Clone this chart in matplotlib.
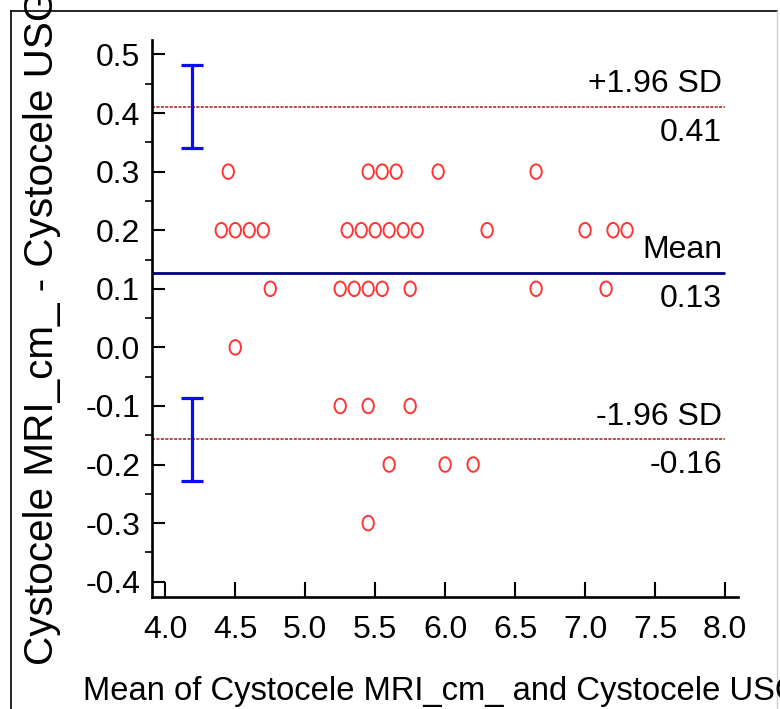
import matplotlib
matplotlib.use("Agg")
import matplotlib.pyplot as plt
from matplotlib.path import Path
from matplotlib.markers import MarkerStyle
from matplotlib.lines import Line2D
import numpy as np

# ---- data ----
mean_vals = [4.45, 5.45, 5.55, 5.65, 5.95, 6.65,
             4.4, 4.5, 4.6, 4.7, 5.3, 5.4, 5.5, 5.6, 5.7, 5.8, 6.3, 7.0, 7.2, 7.3,
             4.75, 5.25, 5.35, 5.45, 5.55, 5.75, 6.65, 7.15,
             4.5,
             5.25, 5.45, 5.75,
             5.6, 6.0, 6.2,
             5.45]
diff_vals = [0.3] * 6 + [0.2] * 14 + [0.1] * 8 + [0.0] + [-0.1] * 3 + [-0.2] * 3 + [-0.3]

bias = 0.127
upper_loa = 0.411
lower_loa = -0.157
loa_ci_half = 0.071
ci_x = 4.19

line_labels_above = ["+1.96 SD", "Mean", "-1.96 SD"]
line_labels_below = ["0.41", "0.13", "-0.16"]

xticks = [4.0, 4.5, 5.0, 5.5, 6.0, 6.5, 7.0, 7.5, 8.0]
yticks = [-0.4, -0.3, -0.2, -0.1, 0.0, 0.1, 0.2, 0.3, 0.4, 0.5]

xlabel = "Mean of Cystocele MRI_cm_ and Cystocele USG"
ylabel = "Cystocele MRI_cm_ - Cystocele USG"

plt.rcParams['font.family'] = ['Liberation Sans', 'DejaVu Sans']

W, H = 780, 709
fig = plt.figure(figsize=(W / 100, H / 100), dpi=100)
ax = fig.add_axes([152.3 / W, 1 - 596.7 / H, (738 - 152.3) / W, (596.7 - 40) / H])

ax.set_xlim(3.907, 8.093)
ax.set_ylim(-0.4256, 0.5247)

# reference lines
x_end = 8.0
ax.plot([3.907, x_end], [bias, bias], color='#000080', lw=2.0, solid_capstyle='butt', zorder=2)
for v in (upper_loa, lower_loa):
    ax.plot([3.907, x_end], [v, v], color='#a01c1c', lw=1.1, ls=(0, (2.0, 0.9)), zorder=2)

# CI error bars on limits of agreement
for v in (upper_loa, lower_loa):
    ax.errorbar([ci_x], [v], yerr=[[loa_ci_half], [loa_ci_half]], fmt='none',
                ecolor='#0a0aff', elinewidth=2.3, capsize=8, capthick=2.3, zorder=3)

# elliptical open markers
circ = Path.unit_circle()
verts = circ.vertices * np.array([0.78, 1.0])
ell = Path(verts, circ.codes)
ax.scatter(mean_vals, diff_vals, marker=MarkerStyle(ell), s=10.5 ** 2,
           facecolors='none', edgecolors='#ff3535', linewidths=1.4, zorder=4)

# labels for lines
for v, ta, tb in zip((upper_loa, bias, lower_loa), line_labels_above, line_labels_below):
    ax.annotate(ta, xy=(x_end, v), xytext=(-2, 10.5), textcoords='offset points',
                ha='right', va='baseline', fontsize=23)
    ax.annotate(tb, xy=(x_end, v), xytext=(-2, -8), textcoords='offset points',
                ha='right', va='top', fontsize=23)

# axes styling
for s in ('top', 'right'):
    ax.spines[s].set_visible(False)
for s in ('left', 'bottom'):
    ax.spines[s].set_linewidth(1.9)
ax.set_xticks(xticks)
ax.set_xticklabels([f"{t:.1f}" for t in xticks])
ax.set_yticks(yticks)
ax.set_yticklabels([f"{t:.1f}" for t in yticks])
ax.set_yticks(np.arange(-0.35, 0.5, 0.1), minor=True)
ax.tick_params(axis='both', direction='in', width=1.5, labelsize=23)
ax.tick_params(axis='y', which='major', length=9.5, pad=8.5)
ax.tick_params(axis='y', which='minor', length=5, width=1.2)
ax.tick_params(axis='x', which='major', length=10.5, pad=13)

# axis titles (cropped like reference)
fig.text(83 / W, 1 - 700 / H, xlabel, ha='left', va='baseline', fontsize=23.6)
fig.text(53 / W, 1 - 665 / H, ylabel, ha='left', va='baseline', rotation=90,
         rotation_mode='anchor', fontsize=29.2)

# outer frame
fig.add_artist(Line2D([11 / W, 11 / W], [0, 1 - 11 / H], transform=fig.transFigure,
                      color='black', lw=1.2))
fig.add_artist(Line2D([11 / W, 777 / W], [1 - 11 / H, 1 - 11 / H], transform=fig.transFigure,
                      color='black', lw=1.2))
fig.add_artist(Line2D([777 / W, 777 / W], [0, 1 - 11 / H], transform=fig.transFigure,
                      color='#d0d0d0', lw=1.0))

fig.savefig("out.png", dpi=100)
